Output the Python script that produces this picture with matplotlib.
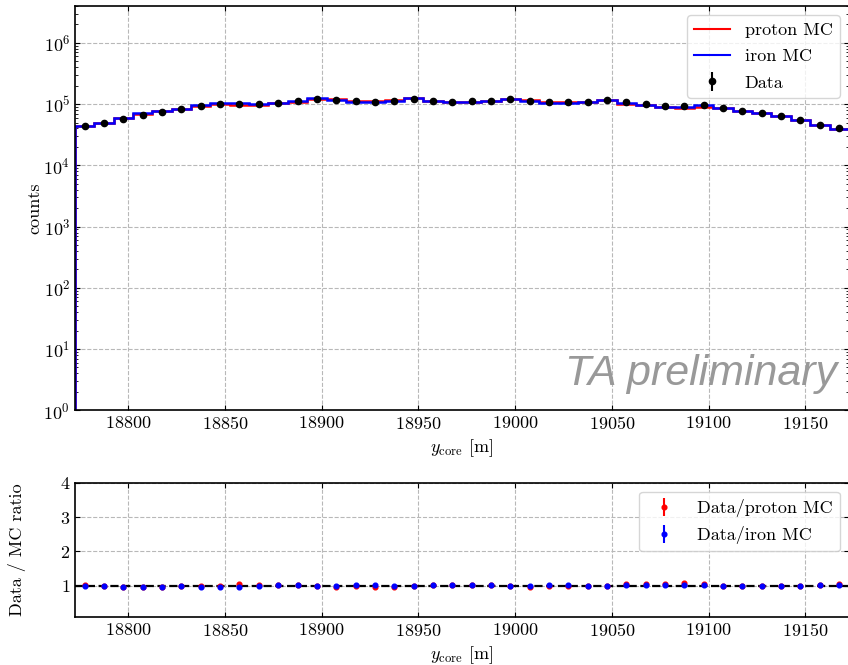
import numpy as np
import matplotlib
matplotlib.use("Agg")
import matplotlib.pyplot as plt
from matplotlib.lines import Line2D

plt.rcParams['font.family'] = 'serif'
plt.rcParams['font.serif'] = ['cmr10', 'DejaVu Serif']
plt.rcParams['mathtext.fontset'] = 'cm'
plt.rcParams['axes.formatter.use_mathtext'] = True
plt.rcParams['font.size'] = 13

# bins of y_core [m]
bin_edges = np.arange(18772.5, 19172.6, 10.0)

# data counts per bin
data_counts = [43800, 48400, 56900, 67000, 75000, 82800, 91600, 101000, 101000, 98800,
               104000, 112000, 122000, 116000, 111000, 109000, 112000, 122000, 113000, 110000,
               111000, 113000, 122000, 112000, 107000, 107000, 108000, 116000, 107000, 98800,
               93800, 91600, 96300, 86000, 77800, 70500, 63700, 54800, 45900, 40600]

# MC counts (normalised to data)
proton_counts = [43370, 48890, 59210, 69720, 78040, 84400, 93380, 101000, 97210, 96960,
                 102970, 108840, 123230, 120710, 113150, 112260, 117650, 124360, 111880, 107950,
                 107870, 110890, 122000, 116550, 108080, 109070, 110090, 116000, 102100, 95090,
                 89500, 85770, 91020, 86000, 77800, 71870, 64930, 55860, 45040, 38740]

iron_counts = [44650, 48890, 59210, 70380, 78040, 84400, 95320, 106090, 104020, 99800,
               102970, 110890, 124360, 117170, 109900, 107920, 113130, 124360, 111880, 107950,
               107870, 110890, 122000, 112000, 105940, 105940, 108000, 116000, 105000, 96110,
               91160, 90690, 95350, 86000, 77800, 71870, 64930, 55350, 45040, 39460]

centers = 0.5 * (bin_edges[:-1] + bin_edges[1:])
data = np.array(data_counts, dtype=float)
proton = np.array(proton_counts, dtype=float)
iron = np.array(iron_counts, dtype=float)

fig = plt.figure(figsize=(8.48, 6.65), dpi=100)
ax1 = fig.add_axes([0.0885, 0.383, 0.9125, 0.608])
ax2 = fig.add_axes([0.0885, 0.0726, 0.9125, 0.2014])

# --- top panel ---
ax1.hist(centers, bins=bin_edges, weights=proton, histtype='step', color='red',
         linewidth=1.8)
ax1.hist(centers, bins=bin_edges, weights=iron, histtype='step', color='blue',
         linewidth=1.8)
h_data = ax1.errorbar(centers, data, yerr=np.sqrt(data), fmt='o', color='black',
                      markersize=4.5)
ax1.set_yscale('log')
ax1.set_ylim(1, 4e6)
ax1.set_xlim(bin_edges[0], bin_edges[-1])
ax1.set_ylabel('counts', labelpad=1)
ax1.set_xlabel(r'$y_{\rm core}$ [m]')
ax1.grid(True, linestyle='--', color='#b8b8b8', linewidth=0.8)
ax1.tick_params(which='both', direction='in', top=True, right=True)
handles = [Line2D([], [], color='red', linewidth=1.5),
           Line2D([], [], color='blue', linewidth=1.5),
           h_data]
ax1.legend(handles, ['proton MC', 'iron MC', 'Data'], loc='upper right',
           labelspacing=0.6)
ax1.text(0.985, 0.09, 'TA preliminary', transform=ax1.transAxes, ha='right',
         va='center', fontsize=31, color='#999999', style='italic',
         family='Liberation Sans')

# --- ratio panel ---
ratio_p = data / proton
ratio_i = data / iron
err_p = ratio_p * np.sqrt(1.0 / data)
err_i = ratio_i * np.sqrt(1.0 / data)
ax2.errorbar(centers, ratio_p, yerr=err_p, fmt='o', color='red', markersize=3.4,
             label='Data/proton MC')
ax2.errorbar(centers, ratio_i, yerr=err_i, fmt='o', color='blue', markersize=3.4,
             label='Data/iron MC')
ax2.axhline(1.0, color='black', linestyle='--', linewidth=1.6)
ax2.set_ylim(0.1, 4)
ax2.set_yticks([1, 2, 3, 4])
ax2.set_xlim(bin_edges[0], bin_edges[-1])
ax2.set_xlabel(r'$y_{\rm core}$ [m]')
ax2.set_ylabel('Data / MC ratio', labelpad=24)
ax2.grid(True, linestyle='--', color='#b8b8b8', linewidth=0.8)
ax2.tick_params(which='both', direction='in', top=True, right=True)
ax2.legend(loc='upper right')

for ax in (ax1, ax2):
    for s in ax.spines.values():
        s.set_linewidth(1.2)

fig.savefig('out.png', dpi=100)
